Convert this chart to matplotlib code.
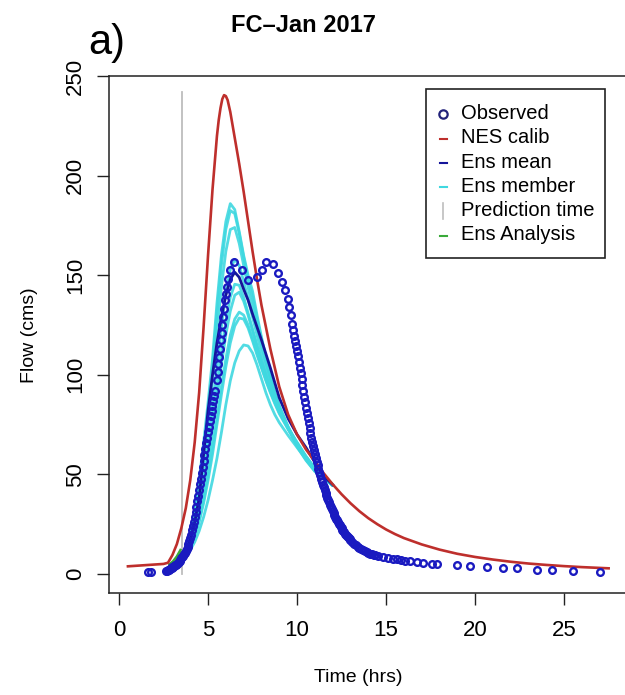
import matplotlib
matplotlib.use("Agg")
import matplotlib.pyplot as plt
from matplotlib.patches import Rectangle

plt.rcParams['font.family'] = ['Liberation Sans', 'DejaVu Sans']

# ---------------- data ----------------
title = "FC\u2013Jan 2017"
panel = "a)"
xlabel = "Time (hrs)"
ylabel = "Flow (cms)"
xticks = [0, 5, 10, 15, 20, 25]
yticks = [0, 50, 100, 150, 200, 250]
legend_labels = ["Observed", "NES calib", "Ens mean", "Ens member", "Prediction time", "Ens Analysis"]

# observed flow (circles)
obs_t_start = [1.60, 1.80]
obs_q_start = [0.8, 1.0]
obs_t_rise = [2.65, 2.70, 2.75, 2.80, 2.85, 2.90, 2.95, 3.00, 3.05, 3.10, 3.15, 3.20, 3.25, 3.30, 3.35,
              3.40, 3.45, 3.50, 3.55, 3.60, 3.65, 3.70, 3.75, 3.80, 3.85, 3.90, 3.95, 4.00, 4.05, 4.10,
              4.15, 4.20, 4.25, 4.30, 4.35, 4.40, 4.45, 4.50, 4.55, 4.60, 4.65, 4.70, 4.75, 4.80, 4.85,
              4.90, 4.95, 5.00, 5.05, 5.10, 5.15, 5.20, 5.25, 5.30, 5.35, 5.40]
obs_q_rise = [1.3, 1.6, 1.9, 2.2, 2.5, 2.8, 3.1, 3.4, 3.7, 4.0, 4.3, 4.7, 5.1, 5.6, 6.1,
              6.6, 7.2, 7.8, 8.4, 9.0, 9.8, 10.7, 11.6, 12.6, 13.7, 14.9, 16.3, 17.9, 19.7, 21.8,
              24.0, 26.3, 28.7, 31.2, 33.8, 36.5, 39.3, 42.1, 45.0, 47.9, 50.9, 53.9, 56.9, 59.9, 62.8,
              65.7, 68.5, 71.3, 74.0, 76.7, 79.3, 81.9, 84.4, 86.9, 89.4, 91.9]
obs_t_peak = [5.49, 5.54, 5.58, 5.62, 5.67, 5.73, 5.76, 5.80, 5.86, 5.90, 5.96, 6.01, 6.08, 6.14, 6.24,
              6.48, 6.88, 7.26, 7.74, 8.02, 8.24, 8.67, 8.95, 9.18, 9.33, 9.48, 9.57, 9.66, 9.74, 9.79]
obs_q_peak = [97.2, 101.4, 105.6, 109.0, 113.2, 117.3, 121.1, 124.9, 129.0, 133.3, 137.4, 140.8, 144.1, 148.3, 152.5,
              156.7, 152.5, 147.8, 149.1, 152.5, 156.7, 155.5, 151.2, 146.6, 142.5, 138.3, 134.0, 129.9, 125.7, 122.4]
obs_t_fall = [9.85, 9.90, 9.95, 10.00, 10.05, 10.10, 10.15, 10.20, 10.25, 10.30,
              10.35, 10.40, 10.45, 10.50, 10.55, 10.60, 10.65, 10.70, 10.75, 10.80,
              10.85, 10.90, 10.95, 11.00, 11.05, 11.10, 11.15, 11.20, 11.25, 11.30,
              11.35, 11.40, 11.45, 11.50, 11.55, 11.60, 11.65, 11.70, 11.75, 11.80,
              11.85, 11.90, 11.95, 12.00, 12.05, 12.10, 12.15, 12.20, 12.25, 12.30,
              12.35, 12.40, 12.45, 12.50, 12.55, 12.60, 12.65, 12.70, 12.75, 12.80,
              12.85, 12.90, 12.95, 13.00,
              13.1, 13.2, 13.3, 13.4, 13.5, 13.6, 13.7, 13.8, 13.9, 14.0, 14.1, 14.2, 14.3, 14.4]
obs_q_fall = [119.6, 117.2, 114.7, 112.0, 109.3, 106.5, 103.6, 100.7, 97.8, 94.9,
              92.0, 89.1, 86.3, 83.5, 80.8, 78.2, 75.6, 73.1, 70.7, 68.4,
              66.2, 64.1, 62.0, 60.0, 58.1, 56.3, 54.5, 52.8, 51.1, 49.5,
              47.9, 46.4, 44.9, 43.5, 42.1, 40.8, 39.5, 38.3, 37.1, 35.9,
              34.8, 33.7, 32.6, 31.6, 30.6, 29.6, 28.7, 27.8, 26.9, 26.0,
              25.2, 24.4, 23.6, 22.9, 22.2, 21.5, 20.8, 20.2, 19.6, 19.0,
              18.4, 17.9, 17.4, 16.9,
              16.0, 15.1, 14.3, 13.6, 13.0, 12.4, 11.9, 11.4, 11.0, 10.6, 10.2, 9.9, 9.6, 9.3]
obs_t_tail = [14.57, 14.85, 15.13, 15.37, 15.60, 15.84, 16.07, 16.35, 16.76, 17.10, 17.57, 17.85,
              18.99, 19.72, 20.67, 21.57, 22.36, 23.48, 24.33, 25.50, 27.02]
obs_q_tail = [9.0, 8.5, 8.0, 7.6, 7.3, 7.0, 6.7, 6.3, 5.9, 5.6, 5.1, 4.8,
              4.3, 3.9, 3.4, 3.0, 2.8, 2.1, 1.9, 1.6, 1.1]

# NES calib (red)
nes_t = [0.5, 1.0, 1.5, 2.0, 2.5, 2.75, 3.0, 3.25, 3.5, 3.75, 4.0, 4.25, 4.5, 4.75, 5.0, 5.25, 5.5, 5.6,
         5.7, 5.8, 5.9, 6.0, 6.1, 6.25, 6.5, 6.75, 7.0, 7.25, 7.5, 7.75, 8.0, 8.5, 9.0, 9.5, 10.0, 10.5,
         11.0, 11.5, 12.0, 12.5, 13.0, 13.5, 14.0, 14.5, 15.0, 15.5, 16.0, 17.0, 18.0, 19.0, 20.0, 21.0,
         22.0, 23.0, 24.0, 25.0, 26.0, 27.0, 27.5]
nes_q = [3.8, 4.1, 4.4, 4.7, 5.0, 5.6, 9.5, 15.0, 23.0, 33.0, 47.0, 66.0, 91.0, 124.0, 160.0, 193.0, 220.0, 228.0,
         234.0, 238.5, 240.5, 240.0, 238.0, 232.0, 219.0, 206.0, 192.0, 177.0, 162.0, 148.0, 135.0, 113.0, 94.0, 80.0, 70.0, 62.5,
         56.5, 50.5, 45.0, 40.0, 35.5, 31.5, 28.0, 25.0, 22.3, 20.0, 18.0, 14.8, 12.2, 10.1, 8.5, 7.2,
         6.1, 5.2, 4.5, 3.9, 3.4, 3.0, 2.8]

# ensemble members (cyan) and ensemble mean (navy)
ens_t = [3.5, 3.75, 4.0, 4.25, 4.5, 4.75, 5.0, 5.25, 5.5, 5.75, 6.0, 6.25, 6.5, 6.75, 7.0, 7.25, 7.5,
         7.75, 8.0, 8.25, 8.5, 8.75, 9.0, 9.5, 10.0, 10.5, 11.0, 11.5, 12.0]
member_1 = [9, 13, 20, 31, 47, 66, 86, 108, 136, 160, 177, 186, 183, 172, 160, 150, 142,
            130, 119, 109, 99.5, 91, 84, 73, 64, 57, 51.5, 48, 44.5]
member_2 = [9, 12.5, 19, 29, 44, 62, 82, 104, 131, 155, 173, 182.5, 181, 171, 159, 148, 139,
            128, 118, 108.5, 99.5, 91, 84.5, 73.5, 64.5, 57.5, 51.5, 48, 44.5]
member_3 = [9, 12, 18, 27, 40, 56, 75, 97, 121, 144, 162, 173, 174, 166, 155, 144, 134,
            124, 115, 106, 98, 90.5, 84, 74, 65, 58, 52, 48, 44.5]
member_4 = [8.5, 11, 16, 24, 35, 49, 65, 84, 104, 124, 141, 153, 158, 155, 147, 138, 129,
            120, 111, 103, 96, 89, 83, 73.5, 65, 58, 52.5, 48.5, 44.5]
member_5 = [8.5, 10.5, 15, 22, 32, 44, 58, 75, 93, 111, 127, 139, 145.5, 145, 139, 131, 123,
            115, 107, 100, 93, 87, 81.5, 73, 65.5, 58.5, 52.5, 48.5, 44.5]
member_6 = [8.5, 10.5, 14.5, 21, 30, 42, 55, 71, 88, 105, 120, 132, 140, 141.5, 137, 130, 122,
            114, 106.5, 99.5, 93, 87, 82, 73.5, 66, 59, 53, 48.5, 44.5]
member_7 = [8.5, 10, 13.5, 19, 27, 37, 49, 63, 78, 94, 108, 120, 128, 131.5, 130, 125, 118,
            111, 104, 97.5, 91.5, 86, 81, 73, 66, 59, 53, 48.5, 44.5]
member_8 = [8.5, 10, 13, 18.5, 26, 35.5, 47, 60, 75, 90, 104, 116, 124.5, 128.5, 128, 123.5, 117,
            110, 103.5, 97, 91, 85.5, 80.5, 72.5, 65.5, 59, 53, 48.5, 44.5]
member_9 = [8, 9.5, 12, 16, 21.5, 28.5, 37, 47, 58, 71, 85, 97, 106, 112, 115, 114.5, 111,
            105, 98, 91, 85, 80, 76, 69.5, 63.5, 57.5, 52.5, 48.5, 44.5]
members = [member_1, member_2, member_3, member_4, member_5, member_6, member_7, member_8, member_9]
ens_mean = [8.5, 11.5, 17, 26, 38, 60, 82, 100, 116, 129, 140, 148, 151.5, 149, 143, 137.5, 130.5,
            124, 117.5, 110.5, 103.5, 96, 88.5, 78, 70, 63.5, 56, 49, 44.8]

# ensemble analysis (green)
ana_t = [2.85, 3.05, 3.25, 3.45]
analysis_1 = [4.8, 6.0, 7.8, 10.5]
analysis_2 = [4.8, 6.5, 8.8, 12.0]
analysis_3 = [4.8, 5.6, 6.8, 8.5]
analyses = [analysis_1, analysis_2, analysis_3]

pred_time = 3.52
pred_top = 242

# ---------------- figure ----------------
W, H = 625, 695
fig = plt.figure(figsize=(W / 100, H / 100), dpi=100)
fig.patch.set_facecolor('white')

ax_l, ax_r, ax_t, ax_b = 108.7, 630.0, 76.0, 593.0
ax = fig.add_axes([ax_l / W, 1 - ax_b / H, (ax_r - ax_l) / W, (ax_b - ax_t) / H])

c_red = '#BE2F2C'
c_cyan = '#3FD8E0'
c_mean = '#15159A'
c_obs = '#1A1AC0'
c_green = '#3AAA3A'
c_gray = '#BDBDBD'

ax.plot([pred_time, pred_time], [0, pred_top], color=c_gray, lw=1.3, zorder=1)
for m in members:
    ax.plot(ens_t, m, color=c_cyan, lw=2.0, alpha=0.9, zorder=2, solid_capstyle='round')
for a in analyses:
    ax.plot(ana_t, a, color=c_green, lw=1.8, zorder=3)
ax.plot(ens_t, ens_mean, color=c_mean, lw=2.0, zorder=4)
ax.plot(nes_t, nes_q, color=c_red, lw=1.9, zorder=5, solid_joinstyle='round')
for tt, qq in [(obs_t_start, obs_q_start), (obs_t_rise, obs_q_rise), (obs_t_peak, obs_q_peak),
               (obs_t_fall, obs_q_fall), (obs_t_tail, obs_q_tail)]:
    ax.plot(tt, qq, ls='none', marker='o', ms=4.8, mfc='none', mec=c_obs, mew=1.7, zorder=6)

ax.set_xlim(-0.58, 28.70)
ax.set_ylim(-9.6, 250.1)
ax.set_xticks(xticks)
ax.set_yticks(yticks)
ax.set_xticklabels([str(v) for v in xticks])
ax.set_yticklabels([str(v) for v in yticks])
ax.tick_params(axis='both', direction='out', length=8.5, width=1.0, labelsize=16, color='#222222')
ax.tick_params(axis='x', pad=11)
ax.tick_params(axis='y', pad=8)
for t in ax.get_yticklabels():
    t.set_rotation(90)
    t.set_va('center')
for s in ax.spines.values():
    s.set_linewidth(1.1)
    s.set_color('#222222')

# overlay in pixel coordinates for texts and legend
ov = fig.add_axes([0, 0, 1, 1], zorder=10)
ov.set_xlim(0, W)
ov.set_ylim(H, 0)
ov.axis('off')
ov.patch.set_alpha(0)

ov.text(303, 26, title, ha='center', va='center', fontsize=17, fontweight='bold')
ov.text(88, 43, panel, ha='left', va='center', fontsize=30)
ov.text(358, 677, xlabel, ha='center', va='center', fontsize=14)
ov.text(30, 335, ylabel, ha='center', va='center', fontsize=14, rotation=90)

# legend
ov.add_patch(Rectangle((426, 89), 179, 169, fill=False, ec='#222222', lw=1.2))
ly0, dy = 113.5, 24.3
sx, tx = 443, 461
sym_colors = [c_obs, c_red, c_mean, c_cyan, c_gray, c_green]
for i, lab in enumerate(legend_labels):
    y = ly0 + i * dy
    col = sym_colors[i]
    if i == 0:
        ov.plot([sx], [y], marker='o', ms=6, mfc='none', mec='#22227A', mew=1.6)
    elif i == 4:
        ov.plot([sx, sx], [y - 8, y + 8], color=col, lw=1.2)
    else:
        ov.plot([sx - 3.5, sx + 3.5], [y + 1, y + 1], color=col, lw=1.5)
    ov.text(tx, y, lab, ha='left', va='center', fontsize=14.5)

fig.savefig('out.png', dpi=100, facecolor='white')
